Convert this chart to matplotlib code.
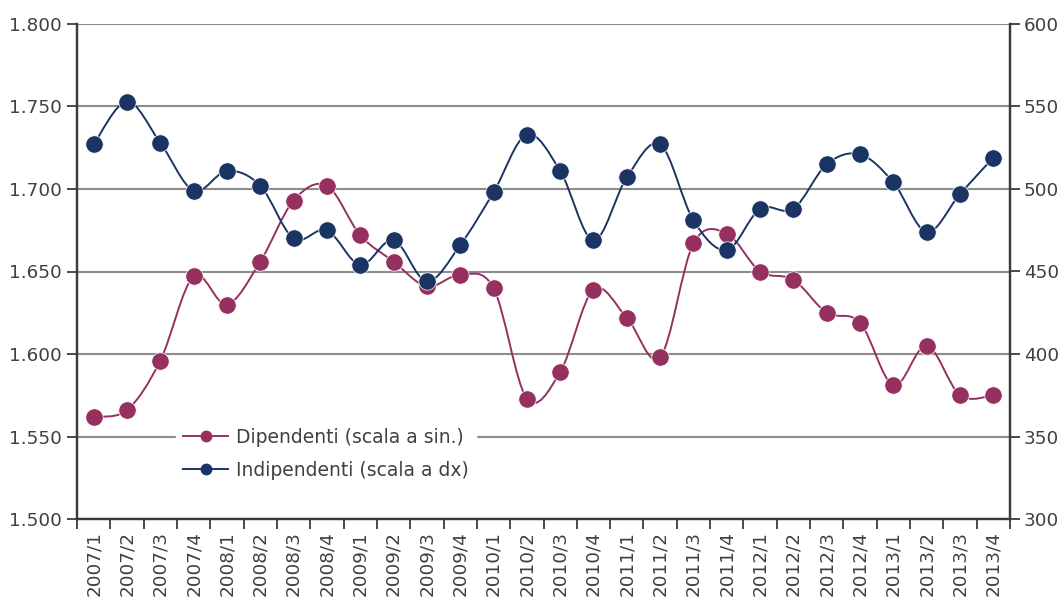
import matplotlib
matplotlib.use("Agg")
import matplotlib.pyplot as plt
import numpy as np
from matplotlib.path import Path
from matplotlib.patches import PathPatch
from matplotlib.lines import Line2D
from matplotlib.ticker import FuncFormatter, MultipleLocator, FixedLocator

categories = [f"{y}/{q}" for y in range(2007, 2014) for q in range(1, 5)]

dipendenti = [1562, 1566, 1596, 1647, 1630, 1656, 1693, 1702,
              1672, 1656, 1641, 1648, 1640, 1573, 1589, 1639,
              1622, 1598, 1667, 1673, 1650, 1645, 1625, 1619,
              1581, 1605, 1575, 1575]

indipendenti = [527, 553, 528, 499, 511, 502, 470, 475,
                454, 469, 444, 466, 498, 533, 511, 469,
                507, 527, 481, 463, 488, 488, 515, 521,
                504, 474, 497, 519]

c_dip = "#96305F"
c_ind = "#1A3563"
grid_c = "#8C8C8C"
spine_c = "#3A3A3A"
text_c = "#404040"
fs = 13.2

plt.rcParams['font.family'] = ['DejaVu Sans']

fig = plt.figure(figsize=(10.58, 5.99), dpi=100)
ax = fig.add_axes([77/1058, 1-519/599, (1010-77)/1058, (519-24)/599])
ax2 = ax.twinx()

x = np.arange(len(categories))


def smooth_path(xs, ys):
    xs = np.asarray(xs, float)
    ys = np.asarray(ys, float)
    n = len(xs)
    verts = [(xs[0], ys[0])]
    codes = [Path.MOVETO]
    for i in range(n - 1):
        i0 = max(i - 1, 0)
        i3 = min(i + 2, n - 1)
        c1 = (xs[i] + (xs[i + 1] - xs[i0]) / 6, ys[i] + (ys[i + 1] - ys[i0]) / 6)
        c2 = (xs[i + 1] - (xs[i3] - xs[i]) / 6, ys[i + 1] - (ys[i3] - ys[i]) / 6)
        verts += [c1, c2, (xs[i + 1], ys[i + 1])]
        codes += [Path.CURVE4] * 3
    return Path(verts, codes)


ax.add_patch(PathPatch(smooth_path(x, dipendenti), facecolor='none',
                       edgecolor=c_dip, lw=1.4, zorder=3))
ax.plot(x, dipendenti, 'o', color=c_dip, ms=12.5, mec='white', mew=0.5,
        linestyle='none', zorder=4)

ax2.add_patch(PathPatch(smooth_path(x, indipendenti), facecolor='none',
                        edgecolor=c_ind, lw=1.4, zorder=3))
ax2.plot(x, indipendenti, 'o', color=c_ind, ms=12.5, mec='white', mew=0.5,
         linestyle='none', zorder=4)

ax.set_xlim(-0.5, len(categories) - 0.5)
ax.set_ylim(1500, 1800)
ax2.set_ylim(300, 600)

ax.yaxis.set_major_locator(MultipleLocator(50))
ax2.yaxis.set_major_locator(MultipleLocator(50))
ax.yaxis.set_major_formatter(FuncFormatter(lambda v, p: f"{int(round(v)):,}".replace(',', '.')))

ax.grid(axis='y', color=grid_c, lw=1.5)
ax.set_axisbelow(True)

ax.set_xticks(x)
ax.set_xticklabels(categories, rotation=90, fontsize=fs, color=text_c)
ax.xaxis.set_minor_locator(FixedLocator(np.arange(-0.5, len(categories), 1)))
ax.tick_params(axis='x', which='major', length=0, pad=9)
ax.tick_params(axis='x', which='minor', length=7, width=1.3, color=spine_c, direction='out')
ax.tick_params(axis='y', labelsize=fs, labelcolor=text_c, length=7, width=1.3,
               color=spine_c, direction='out', pad=4)
ax2.tick_params(axis='y', labelsize=fs, labelcolor=text_c, length=7, width=1.3,
                color=spine_c, direction='out', pad=3)

for a in (ax, ax2):
    a.spines['top'].set_visible(False)
    for s in ('left', 'right', 'bottom'):
        a.spines[s].set_color(spine_c)
        a.spines[s].set_linewidth(1.6)

handles = [
    Line2D([], [], color=c_dip, lw=1.4, marker='o', ms=7.5, label='Dipendenti (scala a sin.)'),
    Line2D([], [], color=c_ind, lw=1.4, marker='o', ms=7.5, label='Indipendenti (scala a dx)'),
]
leg = ax2.legend(handles=handles, loc='center', bbox_to_anchor=(0.267, 0.132),
                 frameon=True, facecolor='white', edgecolor='white', framealpha=1,
                 fontsize=13.5, handlelength=2.4, handletextpad=0.45,
                 labelspacing=0.75, borderpad=0.35, borderaxespad=0, fancybox=False)
for t in leg.get_texts():
    t.set_color(text_c)
leg.set_zorder(10)

fig.savefig("out.png", dpi=100)
